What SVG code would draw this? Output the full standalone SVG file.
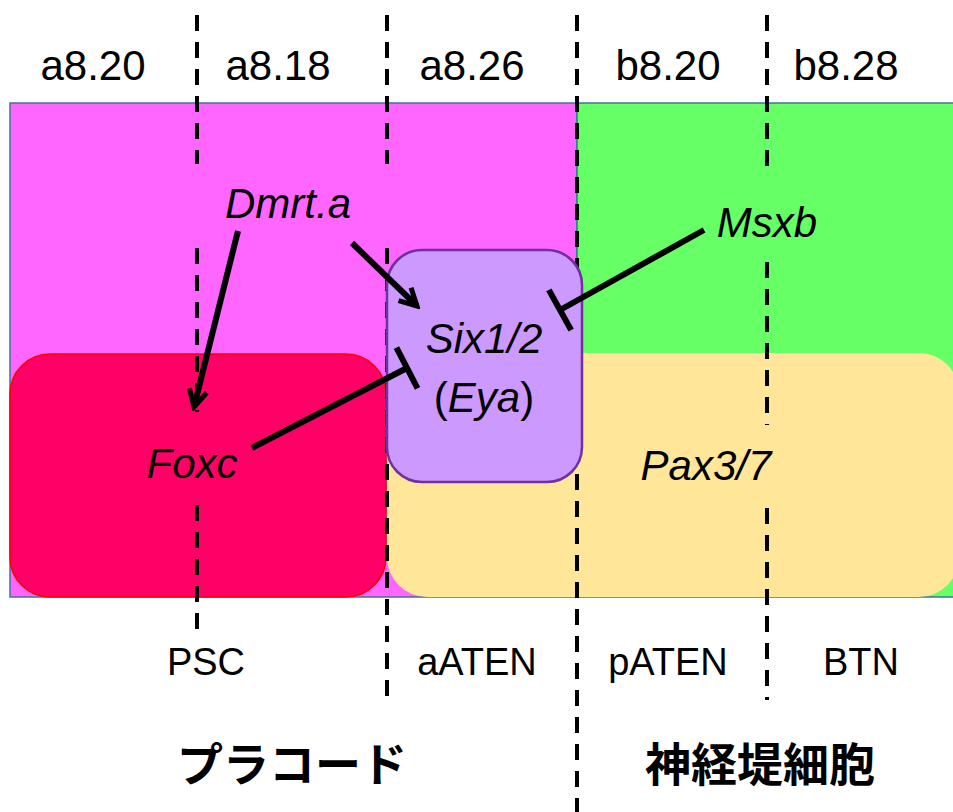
<svg xmlns="http://www.w3.org/2000/svg" width="953" height="812" viewBox="0 0 953 812">
  <style>
    .lbl { font-family: "Liberation Sans", Arial, sans-serif; font-size: 42px; fill: #000; text-anchor: middle; }
    .cell { font-family: "Liberation Sans", Arial, sans-serif; font-size: 38px; fill: #000; text-anchor: middle; }
    .gene { font-family: "Liberation Sans", Arial, sans-serif; font-style: italic; font-size: 42px; fill: #000; text-anchor: middle; }
    .jp { font-family: "Noto Sans CJK JP", "Noto Sans", sans-serif; font-weight: bold; font-size: 46px; fill: #000; text-anchor: middle; }
    .dash { stroke: #000; stroke-width: 4; stroke-dasharray: 16 11; fill: none; }
    .edge { stroke: #000; stroke-width: 6; fill: none; }
  </style>
  <defs>
    <marker id="arrow" viewBox="-22 -14 26 28" refX="0" refY="0" markerWidth="26" markerHeight="28" markerUnits="userSpaceOnUse" orient="auto">
      <path d="M-17,-9 L0,0 L-17,9" fill="none" stroke="#000" stroke-width="5"/>
    </marker>
    <marker id="tbar" viewBox="-4 -26 8 52" refX="0" refY="0" markerWidth="8" markerHeight="52" markerUnits="userSpaceOnUse" orient="auto">
      <path d="M0,-23 L0,23" stroke="#000" stroke-width="6"/>
    </marker>
  </defs>

  <!-- stage bands -->
  <g id="bands">
    <rect x="10" y="103" width="567" height="494" fill="#FF66FF" stroke="#41719C" stroke-width="1.5"/>
    <rect x="577" y="103" width="380" height="494" fill="#66FF66" stroke="#41719C" stroke-width="1.5"/>
  </g>

  <!-- expression domains -->
  <g id="pax">
    <rect x="387" y="353" width="572" height="244" rx="40" ry="40" fill="#FFE699"/>
  </g>
  <g id="foxc">
    <rect x="10" y="354" width="376" height="243" rx="40" ry="40" fill="#FF0066" stroke="#FF0000" stroke-width="1.5"/>
  </g>

  <!-- embryo boundary lines -->
  <g id="boundaries">
    <line class="dash" x1="197" y1="15" x2="197" y2="164"/>
    <line class="dash" x1="197" y1="248" x2="197" y2="412"/>
    <line class="dash" x1="197" y1="505" x2="197" y2="634"/>
    <line class="dash" x1="387" y1="15" x2="387" y2="164"/>
    <line class="dash" x1="387" y1="248" x2="387" y2="700"/>
    <line class="dash" x1="577" y1="15" x2="577" y2="812"/>
    <line class="dash" x1="767" y1="15" x2="767" y2="177"/>
    <line class="dash" x1="767" y1="262" x2="767" y2="425"/>
    <line class="dash" x1="767" y1="508" x2="767" y2="700"/>
  </g>

  <g id="six">
    <rect x="387" y="250" width="195" height="232" rx="35" ry="35" fill="#CC99FF" stroke="#7030A0" stroke-width="2.5"/>
    <text class="gene" x="484" y="353">Six1/2</text>
    <text class="gene" x="484" y="412"><tspan font-style="normal">(</tspan>Eya<tspan font-style="normal">)</tspan></text>
  </g>

  <!-- regulatory interactions -->
  <g id="connectors">
    <line class="edge" x1="238" y1="231" x2="194" y2="407" marker-end="url(#arrow)"/>
    <line class="edge" x1="352" y1="243" x2="417" y2="306" marker-end="url(#arrow)"/>
    <line class="edge" x1="252" y1="448" x2="407" y2="368" marker-end="url(#tbar)"/>
    <line class="edge" x1="704" y1="230" x2="560" y2="310" marker-end="url(#tbar)"/>
  </g>

  <g id="dmrt">
    <text class="gene" x="288" y="218" font-size="41">Dmrt.a</text>
  </g>
  <g id="msxb">
    <text class="gene" x="767" y="237">Msxb</text>
  </g>
  <g id="foxc-label">
    <text class="gene" x="192" y="478" font-size="52">Foxc</text>
  </g>
  <g id="pax-label">
    <text class="gene" x="706" y="480" font-size="43">Pax3/7</text>
  </g>

  <!-- blastomere names -->
  <g id="blastomeres">
    <text class="lbl" x="93" y="80">a8.20</text>
    <text class="lbl" x="278" y="80">a8.18</text>
    <text class="lbl" x="472" y="80">a8.26</text>
    <text class="lbl" x="668" y="80">b8.20</text>
    <text class="lbl" x="846" y="80">b8.28</text>
  </g>

  <!-- cell types -->
  <g id="celltypes">
    <text class="cell" x="206" y="675">PSC</text>
    <text class="cell" x="477" y="675">aATEN</text>
    <text class="cell" x="668" y="675">pATEN</text>
    <text class="cell" x="861" y="675">BTN</text>
  </g>

  <g id="lineages">
    <text class="jp" x="292" y="781">プラコード</text>
    <text class="jp" x="760" y="781">神経堤細胞</text>
  </g>
</svg>
